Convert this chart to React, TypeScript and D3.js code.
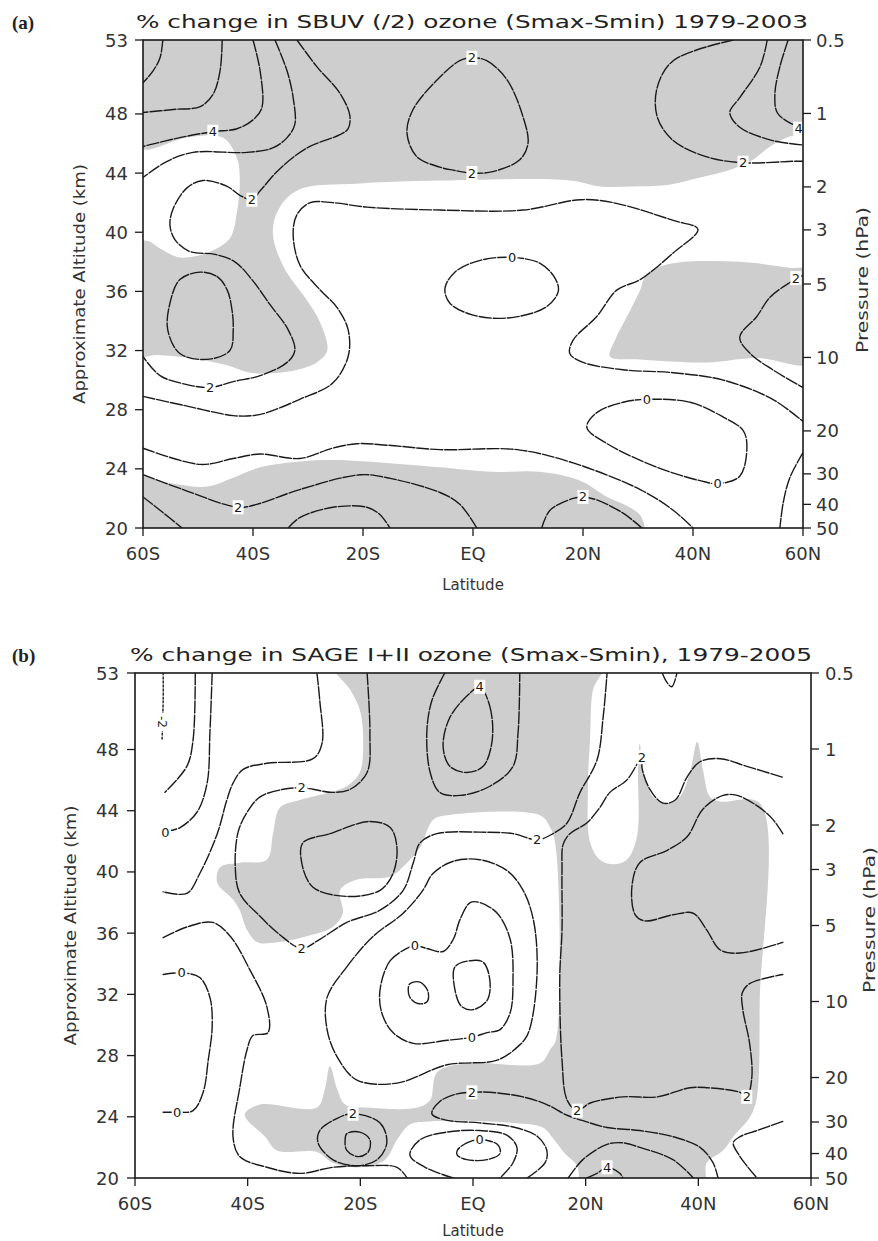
import React from "react";
import * as d3 from "d3";

type P = [number, number];
type Lab = [number, number, string];

// ---------------- axes ----------------
const latTicks = [-60, -40, -20, 0, 20, 40, 60];
const latTickLabels = ["60S", "40S", "20S", "EQ", "20N", "40N", "60N"];
const altTicks = [53, 48, 44, 40, 36, 32, 28, 24, 20];
const pressureTicks = [0.5, 1, 2, 3, 5, 10, 20, 30, 40, 50];
const pressureTickLabels = ["0.5", "1", "2", "3", "5", "10", "20", "30", "40", "50"];

// ---------------- panel (a) contours [lat, km] ----------------
const aC1: P[] = [[-56.4, 53], [-56.9, 51.8], [-58.2, 50.9], [-60, 50.1]];
const aC2: P[] = [[-45.6, 53], [-46.0, 50.9], [-47.3, 49.3], [-49.6, 48.5], [-54.5, 48.3], [-60, 48.1]];
const aC3: P[] = [[-40.0, 53], [-38.7, 50.9], [-38.4, 48.4], [-40.0, 47.6], [-42.9, 47.0], [-47.3, 46.8], [-53.3, 46.4], [-60, 45.8]];
const aC4: P[] = [[-36.0, 53], [-33.8, 50.9], [-32.7, 49.1], [-32.4, 47.3], [-33.8, 46.4], [-36.4, 45.7], [-41.1, 45.4], [-50.9, 45.4], [-55.6, 44.8], [-60, 43.7]];
const aC5: P[] = [[-32.0, 53], [-28.4, 51.2], [-24.2, 49.4], [-22.4, 47.9], [-22.7, 47.0], [-24.2, 46.6], [-30.2, 45.7], [-35.1, 44.3], [-38.7, 42.8], [-40.2, 42.2], [-42.4, 42.5], [-44.7, 43.1], [-49.1, 43.5], [-52.0, 43.0], [-54.5, 41.6], [-55.1, 40.5], [-54.2, 39.5], [-51.5, 38.7], [-46.9, 38.5], [-43.3, 38.0], [-40.2, 36.8], [-36.9, 35.1], [-33.6, 33.4], [-32.4, 32.0], [-33.8, 31.2], [-38.7, 30.3], [-43.6, 29.9], [-47.8, 29.5], [-52.0, 29.7], [-56.9, 30.3], [-60, 31.6]];
const aOvalS: P[] = [[-49.6, 37.3], [-46.5, 37.0], [-44.7, 36.1], [-43.8, 34.7], [-43.6, 33.4], [-44.2, 32.0], [-48.4, 31.4], [-53.3, 31.8], [-55.5, 33.4], [-55.1, 35.2], [-53.3, 36.8]];
const aB: P[] = [[-60, 28.9], [-52.7, 28.3], [-43.6, 27.6], [-40.0, 27.6], [-37.5, 27.8], [-31.5, 28.7], [-25.5, 29.8], [-22.7, 31.6], [-22.7, 33.4], [-24.7, 34.9], [-27.8, 36.1], [-31.5, 37.8], [-32.7, 39.9], [-32.0, 41.2], [-29.6, 42.0], [-25.5, 42.0], [-19.3, 41.7], [-6.0, 41.5], [9.1, 41.5], [19.5, 42.2], [25.5, 42.0], [36.4, 40.8], [40.9, 40.2], [36.4, 38.6], [30.4, 36.8], [26.2, 36.1], [22.5, 34.3], [18.2, 32.7], [17.6, 31.8], [20.0, 31.2], [27.3, 30.7], [36.4, 30.5], [45.5, 30.0], [54.5, 28.7], [60, 27.2]];
const aC: P[] = [[-60, 25.4], [-49.6, 24.3], [-43.6, 24.7], [-38.7, 25.0], [-31.5, 24.7], [-25.5, 25.4], [-21.1, 25.7], [-15.6, 25.6], [-6.0, 25.3], [8.0, 25.3], [18.2, 24.4], [30.4, 22.6], [36.4, 21.2], [40.0, 20]];
const aD: P[] = [[-60, 23.6], [-52.7, 22.6], [-42.7, 21.4], [-39.3, 21.6], [-31.5, 22.6], [-20.5, 23.6], [-15.6, 23.4], [-6.0, 22.4], [-2.4, 21.6], [0.7, 20]];
const aE: P[] = [[-60, 22.1], [-56.9, 21.2], [-52.9, 20]];
const aF: P[] = [[-33.6, 20], [-31.5, 20.7], [-25.5, 21.4], [-19.3, 21.4], [-16.9, 20.9], [-15.1, 20]];
const aG: P[] = [[12.5, 20], [14.0, 21.2], [18.2, 22.0], [20.0, 22.1], [22.5, 21.9], [27.3, 21.0], [30.7, 20]];
const aH: P[] = [[31.6, 28.7], [39.5, 28.5], [45.5, 27.5], [49.1, 26.6], [49.8, 25.5], [48.5, 23.5], [44.5, 23.0], [41.3, 23.2], [33.5, 24.1], [24.4, 25.7], [20.7, 26.8], [22.5, 27.8], [27.3, 28.5]];
const aI: P[] = [[60, 25.1], [57.6, 23.4], [56.4, 21.7], [55.8, 20]];
const aJ: P[] = [[60, 37.1], [57.6, 36.6], [54.0, 35.6], [51.6, 34.3], [48.5, 32.9], [50.4, 31.8], [54.5, 30.7], [60, 29.5]];
const aK: P[] = [[-0.2, 51.8], [2.5, 51.6], [6.2, 50.3], [9.1, 47.8], [10.0, 46.0], [8.5, 44.9], [3.6, 44.1], [-0.2, 44.0], [-3.6, 44.2], [-6.0, 44.4], [-10.2, 45.1], [-12.0, 46.7], [-10.9, 48.3], [-6.0, 50.5], [-2.4, 51.6]];
const aL: P[] = [[47.3, 53], [36.4, 51.6], [33.5, 49.8], [33.5, 47.8], [36.4, 46.2], [42.5, 45.1], [49.1, 44.7], [58.2, 44.8], [60, 44.8]];
const aM: P[] = [[53.5, 53], [52.2, 51.2], [48.5, 49.1], [46.7, 48.1], [48.5, 47.1], [54.5, 46.2], [60, 45.9]];
const aN: P[] = [[57.3, 53], [55.8, 51.2], [54.9, 49.4], [55.3, 48.1], [57.6, 47.4], [60, 47.1]];
const aO: P[] = [[7.1, 38.3], [12.2, 37.9], [14.9, 36.9], [15.5, 36.0], [13.1, 34.9], [6.2, 34.2], [0, 34.4], [-4.2, 35.2], [-5.1, 36.2], [-3.3, 37.3], [1.3, 38.1]];

const aLabels: Lab[] = [
  [-47.3, 46.8, "4"], [-40.2, 42.2, "2"], [-47.8, 29.5, "2"], [-42.7, 21.4, "2"],
  [-0.2, 51.8, "2"], [-0.2, 44.0, "2"], [49.1, 44.7, "2"], [7.1, 38.3, "0"],
  [31.6, 28.7, "0"], [44.5, 23.0, "0"], [20.0, 22.1, "2"], [58.7, 36.9, "2"], [59.2, 47.0, "4"],
];

// panel (a) significance shading
const aShadeTop: P[] = [[-60, 53], [60, 53], [60, 47.1], [57.1, 46.4], [54.0, 45.8], [50.9, 44.9], [47.3, 44.3], [41.3, 43.7], [35.3, 43.2], [29.1, 43.1], [23.1, 43.1], [17.6, 43.5], [-6.0, 43.5], [-20.5, 43.3], [-31.5, 42.9], [-35.1, 41.7], [-36.4, 40.0], [-34.5, 37.7], [-30.2, 35.4], [-27.8, 33.9], [-26.5, 32.0], [-28.4, 31.2], [-33.3, 30.6], [-40.5, 30.5], [-44.7, 31.0], [-51.5, 31.5], [-57.5, 31.7], [-60, 31.7]];
const aShadeMid: P[] = [[31.6, 37.2], [36.4, 37.9], [48.5, 38.0], [57.6, 37.6], [60, 37.4], [60, 31.2], [51.6, 31.5], [42.5, 31.2], [30.4, 31.4], [24.9, 31.6], [25.8, 32.7], [28.0, 34.3], [30.4, 36.1]];
const aShadeBot: P[] = [[-60, 23.4], [-54.5, 23.0], [-48.4, 22.8], [-43.6, 23.4], [-38.7, 24.1], [-31.5, 24.5], [-25.5, 24.6], [-19.3, 24.5], [-6.0, 24.1], [3.1, 23.8], [12.2, 23.8], [19.5, 23.2], [24.4, 22.1], [28.5, 21.4], [30.7, 20.7], [30.7, 20], [-60, 20]];
const aHole: P[] = [[-60, 45.5], [-58.7, 45.6], [-52.0, 46.4], [-45.5, 46.4], [-42.9, 45.0], [-42.4, 43.5], [-42.9, 41.4], [-44.2, 39.6], [-48.4, 38.6], [-53.3, 38.3], [-56.9, 38.9], [-59.0, 39.4], [-60, 39.6]];

// ---------------- panel (b) contours [lat, km] ----------------
const bC1: P[] = [[-55.0, 53], [-55.0, 51.2], [-55.2, 48.6]];
const bC2: P[] = [[-49.3, 53], [-49.7, 48.6], [-50.8, 46.9], [-54.7, 45.2]];
const bC3: P[] = [[-46.3, 53], [-46.7, 49.1], [-47.2, 45.8], [-49.0, 43.9], [-52.0, 42.9], [-53.8, 42.7]];
const bC4: P[] = [[-27.7, 53], [-27.2, 51.2], [-26.8, 48.4], [-28.4, 47.4], [-36.6, 47.1], [-40.8, 46.7], [-42.6, 45.8], [-43.7, 44.7], [-45.4, 42.5], [-48.5, 39.9], [-50.8, 38.6], [-55, 38.7]];
const bC5: P[] = [[-18.8, 53.0], [-18.3, 49.1], [-18.8, 46.5], [-21.8, 45.4], [-24.9, 45.2], [-28.4, 45.4], [-30.4, 45.5], [-33.7, 45.4], [-37.8, 44.9], [-40.1, 43.9], [-41.7, 42.6], [-42.2, 40.3], [-41.4, 38.6], [-37.8, 37.1], [-34.3, 35.9], [-30.4, 35.0], [-27.2, 35.6], [-22.4, 36.7], [-16.5, 37.5], [-12.4, 38.8], [-10.6, 40.6], [-9.4, 41.9], [-6.4, 42.5], [1.2, 42.6], [7.1, 42.5], [11.4, 42.1], [14.2, 42.5], [16.7, 43.2], [19.0, 45.2], [22.0, 47.3], [23.1, 50.1], [23.8, 53.0]];
const bC6: P[] = [[-5.0, 53.0], [-7.3, 51.2], [-8.2, 49.1], [-7.6, 46.5], [-5.9, 45.2], [-2.3, 45.0], [3.0, 45.6], [7.1, 46.9], [8.0, 49.1], [8.3, 53.0]];
const bC7: P[] = [[1.2, 52.1], [3.0, 50.8], [3.4, 48.6], [1.8, 46.9], [-1.1, 46.5], [-4.1, 46.9], [-5.3, 48.2], [-4.1, 50.1], [-0.5, 51.7]];
const bC8: P[] = [[-30.2, 41.9], [-25.4, 42.5], [-18.3, 43.3], [-14.7, 42.9], [-13.5, 41.6], [-14.2, 39.9], [-16.5, 38.8], [-22.4, 38.4], [-28.4, 39.0], [-30.4, 40.6]];
const bCTop: P[] = [[33.6, 53], [34.4, 52.4], [35.3, 52.1], [36.2, 53]];
const bC9: P[] = [[54.9, 46.2], [48.6, 46.9], [43.9, 47.4], [40.3, 47.2], [38.0, 46.2], [35.9, 44.7], [33.7, 44.5], [31.4, 45.4], [30.0, 46.8], [30.0, 47.5], [27.3, 46.0], [24.3, 45.2], [22.5, 44.2], [20.2, 43.2], [17.2, 42.5], [16.0, 41.8], [15.8, 40.1], [15.8, 36.2], [15.4, 33.1], [15.8, 27.7], [16.7, 25.1], [18.5, 24.4], [20.8, 24.9], [26.6, 25.3], [32.7, 25.3], [38.5, 25.9], [41.5, 25.9], [47.4, 25.6], [48.6, 25.3], [49.5, 26.6], [49.1, 28.8], [47.9, 31.0], [47.8, 32.1], [49.1, 32.7], [55.0, 33.3]];
const bH1: P[] = [[55.0, 42.5], [53.3, 43.4], [50.9, 44.2], [46.9, 45.0], [44.4, 45.0], [40.8, 44.1], [38.0, 42.3], [34.4, 41.4], [29.6, 40.6], [28.2, 39.0], [28.8, 37.2], [30.5, 36.8], [35.5, 37.2], [39.1, 37.3], [41.5, 36.2], [43.9, 34.9], [47.4, 34.7], [55.0, 35.4]];
const bOut: P[] = [[-25.9, 31.8], [-22.4, 33.8], [-17.7, 35.8], [-12.4, 37.3], [-8.9, 38.8], [-7.1, 39.9], [-3.5, 40.7], [1.2, 40.8], [6.0, 40.1], [8.9, 38.8], [10.7, 36.9], [11.4, 34.1], [10.7, 30.8], [9.6, 29.3], [8.3, 28.7], [4.3, 27.7], [-4.6, 27.4], [-13.5, 26.2], [-20.6, 26.4], [-24.1, 27.9], [-25.9, 29.7]];
const bZero: P[] = [[-16.5, 32.3], [-14.7, 34.2], [-11.2, 35.1], [-10.3, 35.2], [-8.2, 35.0], [-5.3, 34.8], [-3.5, 35.6], [-2.3, 36.9], [-0.5, 38.0], [1.2, 38.0], [4.3, 37.3], [6.6, 35.6], [7.1, 32.9], [6.6, 30.8], [4.8, 29.7], [2.5, 29.5], [-0.2, 29.2], [-4.6, 29.0], [-10.6, 28.8], [-14.2, 29.5], [-16.2, 30.8]];
const bS1: P[] = [[-11.2, 32.7], [-9.4, 32.8], [-8.0, 32.2], [-8.2, 31.5], [-9.8, 31.4], [-11.2, 31.8], [-11.5, 32.3]];
const bS2: P[] = [[-3.2, 33.8], [-0.5, 34.2], [1.8, 34.1], [3.0, 32.9], [2.5, 31.6], [0.0, 31.0], [-2.0, 31.2], [-3.2, 32.3]];
const bD1: P[] = [[-55.0, 35.7], [-50.8, 36.4], [-46.2, 36.7], [-43.1, 35.8], [-39.6, 33.6], [-36.6, 31.2], [-36.4, 29.5], [-39.1, 29.3], [-40.1, 28.4], [-41.4, 25.9], [-42.6, 22.7], [-41.4, 21.4], [-36.6, 20.7], [-30.7, 20.3], [-24.9, 20.7], [-18.8, 20.8], [-13.5, 20.7], [-11.7, 20.0]];
const bD2: P[] = [[-55, 33.3], [-51.7, 33.4], [-48.5, 33.1], [-46.7, 31.8], [-46.3, 29.9], [-47.0, 27.7], [-47.9, 25.6], [-49.7, 24.4], [-52.5, 24.3], [-55, 24.3]];
const bD3: P[] = [[-21.3, 24.2], [-16.5, 23.6], [-15.3, 22.3], [-17.0, 21.2], [-20.6, 20.8], [-24.9, 21.2], [-27.5, 22.3], [-27.2, 23.1], [-24.1, 23.9]];
const bD4: P[] = [[-22.4, 22.9], [-20.1, 23.0], [-18.3, 22.5], [-18.6, 21.7], [-20.4, 21.4], [-22.4, 21.8], [-22.7, 22.5]];
const bE1: P[] = [[9.6, 20.0], [12.8, 21.0], [13.1, 21.8], [11.5, 22.7], [7.5, 23.3], [1.2, 23.6], [-5.0, 23.8], [-7.3, 24.2], [-5.9, 25.0], [-2.8, 25.5], [-0.2, 25.6], [3.0, 25.6], [8.9, 25.3], [13.1, 24.8], [16.7, 24.1], [19.9, 23.7], [23.8, 23.3], [29.6, 23.1], [35.5, 22.7], [40.3, 22.0], [42.6, 21.0], [43.5, 20.0]];
const bF1: P[] = [[-3.5, 20.0], [-8.5, 20.7], [-11.2, 21.5], [-9.4, 22.5], [-4.6, 23.0], [1.2, 23.1], [6.0, 22.8], [7.8, 22.0], [7.1, 21.0], [4.8, 20.0]];
const bF2: P[] = [[-2.8, 21.8], [-1.1, 22.3], [1.2, 22.5], [4.3, 22.2], [4.8, 21.6], [2.5, 21.2], [-1.1, 21.2], [-2.8, 21.5]];
const bG2: P[] = [[16.9, 20], [19.5, 21.2], [23.8, 22.2], [26.6, 22.3], [29.6, 22.0], [35.5, 21.2], [39.1, 20]];
const bG3: P[] = [[20.2, 20], [22.0, 20.3], [23.8, 20.7], [26.1, 20.3], [26.6, 20]];
const bG4: P[] = [[55, 23.7], [50.4, 23.1], [47.4, 22.7], [46.2, 22.3], [47.4, 21.4], [48.6, 20.8], [50.4, 20]];

const bLabels: Lab[] = [
  [-54.6, 42.6, "0"], [-30.4, 45.5, "2"], [-30.4, 35.0, "2"], [11.4, 42.1, "2"],
  [1.2, 52.1, "4"], [30.0, 47.5, "2"], [18.5, 24.4, "2"], [48.6, 25.3, "2"],
  [-10.3, 35.2, "0"], [-0.2, 29.2, "0"], [-51.7, 33.4, "0"], [-52.5, 24.3, "0"],
  [-21.3, 24.2, "2"], [-0.2, 25.6, "2"], [1.2, 22.5, "0"], [23.8, 20.7, "4"],
];
const bRotLabels: Lab[] = [[-55.2, 49.8, "-2"]];

const bShade: P[] = [[-24.9, 53.0], [23.1, 53.0], [21.3, 51.9], [20.8, 48.8], [20.4, 45.6], [20.8, 41.9], [22.5, 40.8], [24.9, 40.5], [27.3, 40.8], [29.1, 42.3], [29.3, 46.9], [29.6, 48.4], [30.2, 46.7], [32.0, 44.9], [34.4, 44.5], [36.7, 44.9], [38.5, 46.5], [39.8, 48.5], [40.8, 46.7], [42.1, 44.9], [43.9, 44.6], [50.9, 44.5], [50.9, 31.6], [50.4, 25.3], [49.2, 24.0], [46.2, 22.7], [44.4, 21.8], [41.5, 21.0], [40.8, 20.0], [19.5, 20.0], [18.5, 20.8], [16.3, 21.6], [14.2, 22.6], [12.4, 23.3], [7.1, 23.6], [-7.6, 23.7], [-11.2, 23.5], [-13.5, 22.5], [-15.6, 21.2], [-20.1, 20.7], [-24.9, 21.0], [-27.7, 21.7], [-34.8, 21.8], [-36.9, 22.7], [-40.1, 23.8], [-40.5, 24.2], [-37.8, 24.8], [-27.7, 24.6], [-26.3, 25.8], [-25.4, 27.3], [-24.1, 25.8], [-22.7, 24.8], [-18.8, 24.6], [-9.9, 24.6], [-7.6, 25.1], [-6.4, 26.9], [-1.1, 27.5], [11.9, 27.5], [13.7, 28.4], [14.7, 29.0], [14.7, 41.6], [13.7, 42.9], [11.9, 43.7], [-4.6, 43.7], [-7.1, 43.4], [-9.4, 41.6], [-11.7, 40.6], [-14.7, 39.7], [-20.6, 39.5], [-23.6, 38.8], [-23.1, 37.3], [-24.9, 36.4], [-29.5, 35.8], [-34.8, 35.4], [-38.3, 35.4], [-40.1, 36.2], [-41.4, 37.5], [-42.6, 38.2], [-45.4, 39.3], [-44.9, 40.3], [-41.4, 40.6], [-36.6, 40.8], [-35.5, 42.5], [-34.3, 44.2], [-30.7, 44.7], [-25.4, 45.2], [-22.4, 45.6], [-20.1, 46.5], [-19.5, 48.6], [-20.1, 50.6], [-21.8, 51.9]];

// ---------------- rendering ----------------
const SCALE_H = 33 / Math.log(100);
const pressureToAlt = (p: number) => 20 + SCALE_H * Math.log(50 / p);

interface LineSpec { pts: P[]; closed?: boolean; dotted?: boolean }

const FONT = "DejaVu Sans, Verdana, sans-serif";
const SHADE = "#cecece";
const INK = "#1a1a1a";

interface PanelProps {
  id: string;
  x0: number; x1: number; y0: number; y1: number;
  title: string; titleX: number; titleY: number; titleLen: number;
  tag: string; tagY: number;
  shades: P[][]; holes: P[][];
  lines: LineSpec[]; labels: Lab[]; rotLabels: Lab[];
  leftTitleX: number; leftTickX: number; rightTickX: number; rightTitleX: number; rightTitleY: number;
  latTitleY: number;
}

function Panel(p: PanelProps) {
  const xs = d3.scaleLinear().domain([-60, 60]).range([p.x0, p.x1]);
  const ys = d3.scaleLinear().domain([20, 53]).range([p.y1, p.y0]);
  const nudge = (d: P): P => [
    d[0] <= -60 ? -62 : d[0] >= 60 ? 62 : d[0],
    d[1] >= 53 ? 53.6 : d[1] <= 20 ? 19.4 : d[1],
  ];
  const shadeGen = d3.line<P>().x((d) => xs(nudge(d)[0])).y((d) => ys(nudge(d)[1])).curve(d3.curveCatmullRomClosed.alpha(0.5));
  const openGen = d3.line<P>().x((d) => xs(d[0])).y((d) => ys(d[1])).curve(d3.curveCatmullRom.alpha(0.5));
  const closedGen = d3.line<P>().x((d) => xs(d[0])).y((d) => ys(d[1])).curve(d3.curveCatmullRomClosed.alpha(0.5));
  const clip = `clip-${p.id}`;
  const cy = (p.y0 + p.y1) / 2;
  return (
    <g>
      <defs>
        <clipPath id={clip}>
          <rect x={p.x0} y={p.y0} width={p.x1 - p.x0} height={p.y1 - p.y0} />
        </clipPath>
      </defs>
      <g clipPath={`url(#${clip})`}>
        {p.shades.map((s, i) => (
          <path key={"s" + i} d={shadeGen(s) || ""} fill={SHADE} stroke="none" />
        ))}
        {p.holes.map((s, i) => (
          <path key={"h" + i} d={shadeGen(s) || ""} fill="#ffffff" stroke="none" />
        ))}
        {p.lines.map((l, i) => (
          <path
            key={"l" + i}
            d={(l.closed ? closedGen(l.pts) : openGen(l.pts)) || ""}
            fill="none"
            stroke={INK}
            strokeWidth={1.4}
            strokeDasharray={l.dotted ? "2 2" : "12 2"}
            strokeLinecap="round"
          />
        ))}
        {p.labels.map((l, i) => (
          <g key={"t" + i} transform={`translate(${xs(l[0])},${ys(l[1])})`}>
            <rect x={-4.5 * l[2].length - 1} y={-7} width={9 * l[2].length + 2} height={14} fill="#ffffff" />
            <text textAnchor="middle" dominantBaseline="central" fontFamily={FONT} fontSize={13} fill={INK}>{l[2]}</text>
          </g>
        ))}
        {p.rotLabels.map((l, i) => (
          <g key={"r" + i} transform={`translate(${xs(l[0])},${ys(l[1])}) rotate(90)`}>
            <rect x={-9} y={-7} width={18} height={14} fill="#ffffff" />
            <text textAnchor="middle" dominantBaseline="central" fontFamily={FONT} fontSize={12} fill={INK}>{l[2]}</text>
          </g>
        ))}
      </g>
      <rect x={p.x0} y={p.y0} width={p.x1 - p.x0} height={p.y1 - p.y0} fill="none" stroke={INK} strokeWidth={1.6} />
      {/* left altitude axis */}
      {altTicks.map((v) => (
        <g key={"al" + v}>
          <line x1={p.x0 - 8} x2={p.x0} y1={ys(v)} y2={ys(v)} stroke={INK} strokeWidth={1.3} />
          <text x={p.leftTickX} y={ys(v)} textAnchor="end" dominantBaseline="central" fontFamily={FONT} fontSize={18} fill="#333">{v}</text>
        </g>
      ))}
      {/* right pressure axis */}
      {pressureTicks.map((v, i) => (
        <g key={"pr" + v}>
          <line x1={p.x1} x2={p.x1 + 8} y1={ys(pressureToAlt(v))} y2={ys(pressureToAlt(v))} stroke={INK} strokeWidth={1.3} />
          <text x={p.rightTickX} y={ys(pressureToAlt(v))} textAnchor="start" dominantBaseline="central" fontFamily={FONT} fontSize={18} fill="#333">{pressureTickLabels[i]}</text>
        </g>
      ))}
      {/* bottom latitude axis */}
      {latTicks.map((v, i) => (
        <g key={"la" + v}>
          <line x1={xs(v)} x2={xs(v)} y1={p.y1} y2={p.y1 + 8} stroke={INK} strokeWidth={1.3} />
          <text x={xs(v)} y={p.y1 + 32} textAnchor="middle" fontFamily={FONT} fontSize={18} fill="#333">{latTickLabels[i]}</text>
        </g>
      ))}
      <text x={(p.x0 + p.x1) / 2} y={p.latTitleY} textAnchor="middle" fontFamily={FONT} fontSize={15} fill="#333">Latitude</text>
      <text transform={`translate(${p.leftTitleX},${cy}) rotate(-90)`} textAnchor="middle" fontFamily={FONT} fontSize={15} fill="#333" textLength={240} lengthAdjust="spacingAndGlyphs">Approximate Altitude (km)</text>
      <text transform={`translate(${p.rightTitleX},${p.rightTitleY}) rotate(-90)`} textAnchor="middle" fontFamily={FONT} fontSize={15} fill="#333" textLength={146} lengthAdjust="spacingAndGlyphs">Pressure (hPa)</text>
      <text x={p.titleX} y={p.titleY} textAnchor="middle" fontFamily={FONT} fontSize={18} fill="#222" textLength={p.titleLen} lengthAdjust="spacingAndGlyphs">{p.title}</text>
      <text x={12} y={p.tagY} fontFamily="Liberation Serif, Times New Roman, serif" fontWeight="bold" fontSize={19} fill="#222">{p.tag}</text>
    </g>
  );
}

export default function App() {
  const aLines: LineSpec[] = [
    { pts: aC1 }, { pts: aC2 }, { pts: aC3 }, { pts: aC4 }, { pts: aC5 },
    { pts: aOvalS, closed: true }, { pts: aB }, { pts: aC }, { pts: aD }, { pts: aE }, { pts: aF },
    { pts: aG }, { pts: aH, closed: true }, { pts: aI }, { pts: aJ }, { pts: aK, closed: true },
    { pts: aL }, { pts: aM }, { pts: aN }, { pts: aO, closed: true },
  ];
  const bLines: LineSpec[] = [
    { pts: bC1, dotted: true }, { pts: bC2 }, { pts: bC3 }, { pts: bC4 }, { pts: bC5 },
    { pts: bC6 }, { pts: bC7, closed: true }, { pts: bC8, closed: true }, { pts: bCTop },
    { pts: bC9 }, { pts: bH1 }, { pts: bOut, closed: true }, { pts: bZero, closed: true },
    { pts: bS1, closed: true }, { pts: bS2, closed: true }, { pts: bD1 }, { pts: bD2 },
    { pts: bD3, closed: true }, { pts: bD4, closed: true }, { pts: bE1 }, { pts: bF1 },
    { pts: bF2, closed: true }, { pts: bG2 }, { pts: bG3 }, { pts: bG4 },
  ];
  return (
    <svg width={878} height={1241} style={{ position: "absolute", left: 0, top: 0, display: "block" }} xmlns="http://www.w3.org/2000/svg">
      <rect x={0} y={0} width={878} height={1241} fill="#ffffff" />
      <Panel
        id="a" x0={143} x1={803} y0={40} y1={528}
        title="% change in SBUV (/2) ozone (Smax-Smin) 1979-2003" titleX={472} titleY={28} titleLen={672}
        tag="(a)" tagY={29}
        shades={[aShadeTop, aShadeMid, aShadeBot]} holes={[aHole]}
        lines={aLines} labels={aLabels} rotLabels={[]}
        leftTitleX={85} leftTickX={128} rightTickX={816} rightTitleX={868} rightTitleY={280}
        latTitleY={590}
      />
      <Panel
        id="b" x0={135} x1={811} y0={673} y1={1178}
        title="% change in SAGE I+II ozone (Smax-Smin), 1979-2005" titleX={471} titleY={661} titleLen={682}
        tag="(b)" tagY={662}
        shades={[bShade]} holes={[]}
        lines={bLines} labels={bLabels} rotLabels={bRotLabels}
        leftTitleX={76} leftTickX={119} rightTickX={825} rightTitleX={875} rightTitleY={920}
        latTitleY={1236}
      />
    </svg>
  );
}
